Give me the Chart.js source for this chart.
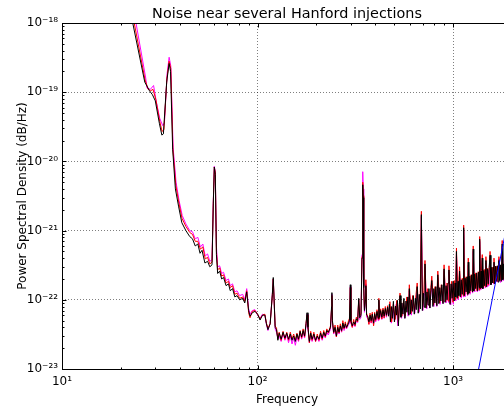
<!DOCTYPE html>
<html><head><meta charset="utf-8">
<script src="https://cdn.jsdelivr.net/npm/chart.js@4/dist/chart.umd.min.js"></script>
<style>html,body{margin:0;padding:0;overflow:hidden;background:#fff}#wrap{width:512px;height:408px}</style>
</head><body><div id="wrap"><canvas id="c" width="512" height="408"></canvas></div>
<script>
const titleText = "Noise near several Hanford injections";
const xLabel = "Frequency";
const yLabel = "Power Spectral Density (dB/Hz)";
const xTicks = [10, 100, 1000];
const yTicks = [1e-23, 1e-22, 1e-21, 1e-20, 1e-19, 1e-18];
const xRange = [10, 2000];
const yRange = [1e-23, 1e-18];

// [frequency Hz, PSD]
const blackPSD = [
[10,9e-19],[10.5,3e-18],[12,2e-17],[16,3e-17],[20,5e-18],[23,1e-18],[26.5,1.4e-19],[28,1.05e-19],[29,9.2e-20],[30,7.5e-20],[31.5,3.5e-20],[32.4,2.4e-20],[33,2.5e-20],[34.3,1.4e-19],[35.3,2.6e-19],[35.9,2.0e-19],[36.8,1.5e-20],[38,4e-21],[39.5,2.2e-21],[41,1.3e-21],[43,1.0e-21],[45,8.2e-22],[46.5,7.6e-22],[48,6.0e-22],[49.5,6.4e-22],[50.8,4.7e-22],[52,5.2e-22],[53.8,3.4e-22],[55.5,3.6e-22],[57,3.0e-22],[58.5,3.2e-22],[59.4,2.5e-21],[60.1,8.3e-21],[60.8,6.5e-21],[61.6,4.5e-22],[62.5,2.4e-22],[64,2.6e-22],[65.5,2.0e-22],[67,2.1e-22],[69,1.6e-22],[71,1.7e-22],[72.5,1.35e-22],[74.5,1.45e-22],[76.5,1.1e-22],[78.5,1.15e-22],[81,1.0e-22],[84,1.05e-22],[86,9e-23],[88,1.3e-22],[90,7e-23],[91.5,5.8e-23],[94,6.5e-23],[97,6.8e-23],[100,6.2e-23],[103,5.1e-23],[106,6.0e-23],[109,6.0e-23],[111,4.5e-23],[113,3.7e-23],[116,4.5e-23],[119,1.2e-22],[120.3,2.1e-22],[121.5,1e-22],[123,4e-23],[125,3.7e-23],[127,2.6e-23],
[129,3.3e-23],[132,2.7e-23],[135,3.4e-23],[138,2.8e-23],[141,3.3e-23],[144,2.7e-23],[147,3.2e-23],[150,2.6e-23],[153,3.0e-23],[156,2.5e-23],[159,3.2e-23],[162,2.7e-23],[165,3.5e-23],[168,2.9e-23],[171,3.6e-23],[174,3.0e-23],[177,4.5e-23],[179,6.5e-23],[181,4.0e-23],[184,2.5e-23],[187,3.3e-23],[190,2.7e-23],[194,3.2e-23],[198,2.6e-23],[202,3.0e-23],[206,2.7e-23],[210,3.3e-23],[214,2.8e-23],[218,3.4e-23],[222,3.0e-23],[226,3.6e-23],[230,3.4e-23],[236,4.0e-23],[239,8e-23],[240,1.27e-22],[241.5,5e-23],[245,3.4e-23],[249,4.0e-23],[253,3.0e-23],[257,4.0e-23],[261,3.4e-23],[265,4.2e-23],[269,3.6e-23],[273,4.6e-23],[277,3.9e-23],[281,4.5e-23],[285,4.0e-23],[290,4.4e-23],[295,5e-23],[298,1.65e-22],[300,5e-23],[305,4.2e-23],[310,4.8e-23],[315,4.4e-23],[320,5.3e-23],[325,5.0e-23],[329,1.05e-22],[333,5.5e-23],[338,6.0e-23],[342,4e-22],[345,4.6e-21],[347,3e-21],[349,1.5e-22],[352,7e-23],[356,1.0e-22],[358,1.6e-22],[361,6e-23],[366,5.8e-23],[371,4.8e-23],[376,6.0e-23],[381,5.0e-23],[386,6.2e-23],[392,4.6e-23],[397,6.3e-23],[402,5.2e-23],[408,6.8e-23],[414,5.4e-23],[417,1.0e-22],[420,5.6e-23],[426,7.0e-23],[432,5.6e-23],[438,7.2e-23],[444,5.8e-23],[450,7.5e-23],[456,6.0e-23],[462,7.8e-23],[467,5.8e-23],
[472,8.6e-23],[478,4.8e-23],[483,8.0e-23],[489,5.4e-23],[495,9.5e-23],[501,4.8e-23],[507,8.1e-23],[513,6.0e-23],[519,9.8e-23],[525,4.2e-23],[531,8.6e-23],[535,1.15e-22],[541,5.6e-23],[547,9.0e-23],[554,6.2e-23],[560,1.05e-22],[567,5.4e-23],[574,9.6e-23],[580,6.6e-23],[587,1.1e-22],[594,6.0e-23],[597,1.45e-22],[604,6.2e-23],[611,1.0e-22],[618,6.8e-23],[626,1.15e-22],[633,6.2e-23],[641,1.05e-22],[648,7.2e-23],[655,1.55e-22],[663,6.4e-23],[671,1.2e-22],[680,7.4e-23],[688,1.7e-21],[696,7.0e-23],[704,1.25e-22],[712,7.8e-23],[718,3.3e-22],[726,7.6e-23],[735,1.3e-22],[744,8.4e-23],[752,1.45e-22],[761,7.6e-23],[770,1.35e-22],[778,1.9e-22],[788,8.0e-23],[797,1.45e-22],[807,9.0e-23],[816,1.55e-22],[826,8.2e-23],[835,2.3e-22],[845,8.8e-23],[855,1.5e-22],[866,9.6e-23],[876,1.65e-22],[887,8.8e-23],[899,2.8e-22],[909,9.2e-23],[920,1.6e-22],[931,1.0e-22],[942,1.75e-22],[952,2.7e-22],[964,8.6e-23],[976,1.7e-22],[988,1.05e-22],[1000,1.85e-22],[1012,9.6e-23],[1024,1.75e-22],[1032,1.1e-22],[1040,5.0e-22],[1048,1.05e-22],[1060,1.85e-22],[1070,1.15e-22],[1079,2.6e-22],[1088,1.1e-22],[1100,1.95e-22],[1112,1.2e-22],[1125,2.0e-22],[1132,1.1e-21],[1140,1.15e-22],[1152,2.05e-22],[1165,1.3e-22],[1178,2.15e-22],[1190,1.2e-22],[1195,3.5e-22],[1203,1.25e-22],[1217,2.2e-22],[1231,1.35e-22],[1245,2.3e-22],[1259,1.3e-22],[1267,5.4e-22],[1275,1.35e-22],[1290,2.35e-22],[1305,1.45e-22],[1320,2.45e-22],[1335,1.35e-22],[1350,2.5e-22],[1360,1.5e-22],[1367,7.5e-22],[1375,1.45e-22],[1390,2.6e-22],[1400,1.5e-22],[1409,4.0e-22],[1418,1.45e-22],[1434,2.65e-22],[1450,1.6e-22],[1464,2.75e-22],[1471,3.7e-22],[1480,1.55e-22],[1496,2.8e-22],[1512,1.7e-22],[1528,2.9e-22],[1545,4.4e-22],[1560,1.65e-22],[1577,2.95e-22],[1594,1.75e-22],[1610,3.0e-22],[1618,3.5e-22],[1628,1.7e-22],[1646,3.05e-22],[1664,1.85e-22],[1682,3.1e-22],[1700,1.8e-22],[1714,3.7e-22],[1726,1.9e-22],[1744,3.2e-22],[1762,1.85e-22],[1782,6.4e-22],[1795,1.95e-22],[1814,3.3e-22],[1833,1.9e-22],[1852,3.35e-22],[1871,2.0e-22],[1890,3.4e-22],[1910,2.05e-22],[1930,3.45e-22],[1950,2.1e-22],[1970,3.5e-22],[1990,2.15e-22],[2000,3.0e-22]
];

const redPSD = [
[10,9.5e-19],[10.5,3e-18],[12,2e-17],[16,3e-17],[20,5.5e-18],[23.4,1e-18],[26.6,1.5e-19],[27.6,1.1e-19],[28.4,1.05e-19],[29.2,1.1e-19],[30.2,7.8e-20],[31.6,3.8e-20],[32.5,2.7e-20],[33.2,2.9e-20],[34.4,1.6e-19],[35.3,2.8e-19],[36.0,2.2e-19],[36.9,1.5e-20],[38.2,4.5e-21],[39.6,2.5e-21],[41.1,1.5e-21],[43,1.15e-21],[45,9.4e-22],[46.5,8.8e-22],[48,7.0e-22],[49.5,7.0e-22],[51,5.4e-22],[52.5,5.8e-22],[54,3.9e-22],[55.5,4.1e-22],[57,3.3e-22],[58.5,3.5e-22],[59.4,2.6e-21],[60.1,8.3e-21],[60.8,6.8e-21],[61.6,5e-22],[62.5,2.7e-22],[64,2.9e-22],[65.5,2.2e-22],[67,2.3e-22],[69,1.75e-22],[71,1.85e-22],[72.5,1.5e-22],[74.5,1.6e-22],[76.5,1.2e-22],[78.5,1.25e-22],[81,1.05e-22],[84,1.1e-22],[86,9.5e-23],[88,1.35e-22],[90,6.5e-23],[91.5,5.5e-23],[94,6.8e-23],[97,7.0e-23],[100,6.2e-23],[103,5.3e-23],[106,6.0e-23],[109,6.2e-23],[111,4.6e-23],[113,3.9e-23],[116,4.5e-23],[119,1.15e-22],[120.3,2.0e-22],[121.5,1e-22],[123,4.2e-23],[125,3.9e-23],[127,2.7e-23],
[129,3.4e-23],[132,2.6e-23],[135,3.5e-23],[138,2.7e-23],[141,3.4e-23],[144,2.6e-23],[147,3.4e-23],[150,2.7e-23],[153,3.2e-23],[156,2.6e-23],[159,3.3e-23],[162,2.6e-23],[165,3.6e-23],[168,2.8e-23],[171,3.8e-23],[174,2.9e-23],[177,4.6e-23],[179,6.0e-23],[181,4.2e-23],[184,2.4e-23],[187,3.5e-23],[190,2.6e-23],[194,3.4e-23],[198,2.5e-23],[202,3.2e-23],[206,2.6e-23],[210,3.5e-23],[214,2.7e-23],[218,3.6e-23],[222,2.9e-23],[226,3.8e-23],[230,3.3e-23],[236,4.2e-23],[239,7.5e-23],[240,1.15e-22],[241.5,4.8e-23],[245,3.3e-23],[249,4.3e-23],[253,2.9e-23],[257,4.3e-23],[261,3.3e-23],[265,4.5e-23],[269,3.5e-23],[273,5.0e-23],[277,3.8e-23],[281,4.8e-23],[285,3.9e-23],[290,4.7e-23],[295,5.4e-23],[298,1.5e-22],[300,4.8e-23],[305,4.0e-23],[310,5.2e-23],[315,4.2e-23],[320,5.6e-23],[325,4.8e-23],[329,1.0e-22],[333,5.8e-23],[338,6.4e-23],[342,4.2e-22],[345,5.0e-21],[347,3.2e-21],[349,1.6e-22],[352,7.2e-23],[356,1.1e-22],[358,1.95e-22],[361,6.4e-23],[366,5.6e-23],[371,4.4e-23],[376,6.4e-23],[381,4.7e-23],[386,6.6e-23],[392,4.2e-23],[397,6.6e-23],[402,5.0e-23],[408,7.2e-23],[414,5.2e-23],[417,1.05e-22],[420,5.3e-23],[426,7.4e-23],[432,5.3e-23],[438,7.6e-23],[444,5.5e-23],[450,8.0e-23],[456,5.8e-23],[462,8.2e-23],[468,6.0e-23],
[475,9.4e-23],[485,4.8e-23],[495,8.8e-23],[505,5.2e-23],[515,9.8e-23],[525,4.6e-23],[535,1.25e-22],[547,5.8e-23],[558,9.8e-23],[568,5.8e-23],[580,1.1e-22],[591,6.2e-23],[597,1.65e-22],[609,6.4e-23],[621,1.15e-22],[634,6.6e-23],[646,1.2e-22],[655,1.75e-22],[666,6.8e-23],[679,1.25e-22],[688,1.9e-21],[697,7.2e-23],[709,1.35e-22],[718,3.7e-22],[730,7.8e-23],[742,1.45e-22],[757,8.0e-23],[769,1.5e-22],[778,2.2e-22],[794,8.4e-23],[808,1.55e-22],[822,8.4e-23],[835,2.6e-22],[853,9.0e-23],[870,1.65e-22],[887,9.2e-23],[899,3.2e-22],[916,9.4e-23],[931,1.75e-22],[943,9.6e-23],[952,3.1e-22],[968,9.0e-23],[983,1.85e-22],[998,9.2e-23],[1013,1.9e-22],[1028,1.0e-22],[1040,5.6e-22],[1058,1.05e-22],[1070,1.95e-22],[1079,3.0e-22],[1095,1.1e-22],[1114,2.05e-22],[1127,1.15e-22],[1132,1.2e-21],[1145,1.15e-22],[1164,2.15e-22],[1182,1.2e-22],[1195,4.0e-22],[1215,1.25e-22],[1235,2.3e-22],[1254,1.3e-22],[1267,6.0e-22],[1285,1.35e-22],[1305,2.45e-22],[1325,1.35e-22],[1344,2.55e-22],[1358,1.4e-22],[1367,8.2e-22],[1384,1.45e-22],[1398,2.65e-22],[1409,4.5e-22],[1428,1.5e-22],[1443,2.75e-22],[1458,1.55e-22],[1471,4.2e-22],[1488,1.6e-22],[1503,2.85e-22],[1518,1.65e-22],[1533,2.95e-22],[1545,5.0e-22],[1565,1.7e-22],[1585,2.95e-22],[1605,1.75e-22],[1618,4.0e-22],[1640,1.8e-22],[1660,3.05e-22],[1680,1.85e-22],[1700,3.15e-22],[1714,4.2e-22],[1735,1.9e-22],[1755,3.15e-22],[1770,1.95e-22],[1782,7.2e-22],[1805,2.0e-22],[1825,3.25e-22],[1845,2.05e-22],[1865,3.25e-22],[1890,2.1e-22],[1915,3.3e-22],[1940,2.15e-22],[1965,3.3e-22],[1990,2.2e-22]
];

const magentaPSD = [
[10,9e-19],[10.5,3e-18],[12,2e-17],[16,3e-17],[20,6e-18],[23.9,1e-18],[26.8,1.6e-19],[27.2,1.15e-19],[28.3,1.1e-19],[29.4,1.25e-19],[30.3,7.5e-20],[31.6,4.2e-20],[32.7,3.3e-20],[33.4,3.6e-20],[34.5,1.9e-19],[35.3,3.2e-19],[36.0,2.4e-19],[37.0,1.6e-20],[38.3,5e-21],[39.7,2.7e-21],[41.2,1.65e-21],[43,1.25e-21],[45,1.0e-21],[46.5,9.6e-22],[48,7.6e-22],[49.5,8.0e-22],[51,5.8e-22],[52.5,6.4e-22],[54,4.3e-22],[55.5,4.6e-22],[57,3.6e-22],[58.5,3.8e-22],[59.4,2.7e-21],[60.1,8.5e-21],[60.8,7.0e-21],[61.6,6e-22],[62.5,3.0e-22],[64,3.1e-22],[65.5,2.4e-22],[67,2.5e-22],[69,1.9e-22],[71,2.0e-22],[72.5,1.6e-22],[74.5,1.7e-22],[76.5,1.3e-22],[78.5,1.35e-22],[81,1.15e-22],[84,1.2e-22],[86,1.0e-22],[88,1.45e-22],[90,7.5e-23],[91.5,6.2e-23],[94,7e-23],[97,7.2e-23],[100,6.0e-23],[103,5.4e-23],[106,6.2e-23],[109,6.0e-23],[111,4.4e-23],[113,3.6e-23],[116,4.6e-23],[119,1.2e-22],[120.3,2.0e-22],[121.5,1e-22],[123,3.8e-23],[125,3.4e-23],[127,2.8e-23],
[129,3.0e-23],[132,2.5e-23],[135,3.3e-23],[138,2.6e-23],[141,3.1e-23],[144,2.4e-23],[147,3.0e-23],[150,2.3e-23],[153,2.8e-23],[156,2.2e-23],[159,2.9e-23],[162,2.5e-23],[165,3.3e-23],[168,2.7e-23],[171,3.4e-23],[174,2.8e-23],[177,4.2e-23],[179,6.2e-23],[181,3.8e-23],[184,2.4e-23],[187,3.1e-23],[190,2.5e-23],[194,3.0e-23],[198,2.5e-23],[202,2.9e-23],[206,2.5e-23],[210,3.1e-23],[214,2.6e-23],[218,3.2e-23],[222,2.8e-23],[226,3.4e-23],[230,3.1e-23],[236,3.8e-23],[239,7.5e-23],[240,1.2e-22],[241.5,4.6e-23],[245,3.2e-23],[249,3.7e-23],[253,2.9e-23],[257,3.8e-23],[261,3.2e-23],[265,4.0e-23],[269,3.4e-23],[273,4.3e-23],[277,3.6e-23],[281,4.2e-23],[285,3.8e-23],[290,4.2e-23],[295,4.6e-23],[298,1.55e-22],[300,4.6e-23],[305,4.0e-23],[310,4.5e-23],[315,4.1e-23],[320,5.0e-23],[325,4.7e-23],[329,9.8e-23],[333,5.2e-23],[338,5.6e-23],[342,4.5e-22],[345,7.1e-21],[347,4e-21],[349,1.6e-22],[352,6.6e-23],[356,9.5e-23],[358,1.7e-22],[361,5.6e-23],[366,5.4e-23],[371,4.5e-23],[376,5.6e-23],[381,4.6e-23],[386,5.8e-23],[392,4.3e-23],[397,5.9e-23],[402,4.8e-23],[408,6.4e-23],[414,5.0e-23],[417,9.5e-23],[420,5.2e-23],[426,6.6e-23],[432,5.2e-23],[438,6.8e-23],[444,5.4e-23],[450,7.0e-23],[456,5.6e-23],[462,7.4e-23],[468,5.8e-23],
[473,8.2e-23],[483,4.6e-23],[493,7.8e-23],[502,4.8e-23],[512,8.6e-23],[522,4.2e-23],[535,1.05e-22],[545,5.4e-23],[555,8.8e-23],[565,5.4e-23],[577,9.6e-23],[589,5.8e-23],[597,1.35e-22],[612,6.0e-23],[624,1.0e-22],[637,6.4e-23],[649,1.05e-22],[655,1.45e-22],[669,6.6e-23],[681,1.1e-22],[688,1.6e-21],[700,7.0e-23],[712,1.2e-22],[718,3.0e-22],[733,7.4e-23],[746,1.3e-22],[760,7.6e-23],[772,1.35e-22],[778,1.75e-22],[797,8.0e-23],[811,1.4e-22],[825,8.0e-23],[835,2.1e-22],[857,8.6e-23],[874,1.5e-22],[891,8.8e-23],[899,2.6e-22],[920,9.0e-23],[934,1.6e-22],[946,9.2e-23],[952,2.5e-22],[972,8.4e-23],[987,1.7e-22],[1002,8.6e-23],[1017,1.75e-22],[1032,9.6e-23],[1040,4.6e-22],[1061,1.0e-22],[1072,1.8e-22],[1079,2.4e-22],[1100,1.05e-22],[1117,1.9e-22],[1128,1.1e-22],[1132,1.0e-21],[1150,1.1e-22],[1169,2.0e-22],[1186,1.15e-22],[1195,3.2e-22],[1220,1.2e-22],[1240,2.1e-22],[1258,1.25e-22],[1267,5.0e-22],[1290,1.3e-22],[1310,2.3e-22],[1330,1.3e-22],[1347,2.4e-22],[1360,1.35e-22],[1367,7.0e-22],[1387,1.4e-22],[1402,2.5e-22],[1409,3.7e-22],[1432,1.45e-22],[1447,2.6e-22],[1462,1.5e-22],[1471,3.4e-22],[1492,1.55e-22],[1507,2.7e-22],[1522,1.6e-22],[1537,2.8e-22],[1545,4.1e-22],[1570,1.65e-22],[1590,2.8e-22],[1609,1.7e-22],[1618,3.3e-22],[1645,1.75e-22],[1665,2.9e-22],[1685,1.8e-22],[1704,3.0e-22],[1714,3.9e-22],[1740,1.8e-22],[1757,3.0e-22],[1773,1.85e-22],[1782,6.0e-22],[1810,1.9e-22],[1830,3.1e-22],[1850,1.95e-22],[1870,3.1e-22],[1895,2.0e-22],[1920,3.1e-22],[1945,2.05e-22],[1970,3.2e-22],[1995,2.1e-22]
];

const bluePSD = [[1300,5.8e-24],[1600,1.17e-22],[1860,1.0e-21],[2000,2.8e-21]];

const supMap = {'-':'\u207B','0':'\u2070','1':'\u00B9','2':'\u00B2','3':'\u00B3','4':'\u2074','5':'\u2075','6':'\u2076','7':'\u2077','8':'\u2078','9':'\u2079'};
function powLabel(v){
  const e = String(Math.round(Math.log10(v)));
  return '10' + e.split('').map(c => supMap[c]).join('');
}
const toXY = arr => arr.map(p => ({x: p[0], y: p[1]}));

const FONT = '"DejaVu Sans", "Liberation Sans", sans-serif';

const frame = {
  id: 'frame',
  afterDraw(chart){
    const {ctx, chartArea: a, scales: {x, y}} = chart;
    ctx.save();
    ctx.strokeStyle = '#000';
    ctx.lineWidth = 1;
    const L = Math.round(a.left) + 0.5, T = Math.round(a.top) + 0.5;
    const R = Math.round(a.right) + 0.5, B = Math.round(a.bottom) + 0.5;
    ctx.strokeRect(L, T, R - L, B - T);
    ctx.beginPath();
    for (let d = 10; d <= 1000; d *= 10){
      for (let k = 1; k <= 9; k++){
        const v = k * d;
        if (v < xRange[0] || v > xRange[1]) continue;
        const px = Math.round(x.getPixelForValue(v)) + 0.5;
        const len = k === 1 ? 4 : 2;
        ctx.moveTo(px, B); ctx.lineTo(px, B - len);
        ctx.moveTo(px, T); ctx.lineTo(px, T + len);
      }
    }
    for (let e = -23; e <= -18; e++){
      for (let k = 1; k <= 9; k++){
        const v = k * Math.pow(10, e);
        if (v < yRange[0] * 0.999 || v > yRange[1] * 1.001) continue;
        const py = Math.round(y.getPixelForValue(v)) + 0.5;
        const len = k === 1 ? 4 : 2;
        ctx.moveTo(L, py); ctx.lineTo(L + len, py);
        ctx.moveTo(R, py); ctx.lineTo(R - len, py);
      }
    }
    ctx.stroke();
    ctx.fillStyle = '#000';
    ctx.font = '14.4px ' + FONT;
    ctx.textAlign = 'center';
    ctx.textBaseline = 'alphabetic';
    ctx.fillText(titleText, (a.left + a.right) / 2, 18);
    ctx.restore();
  }
};

const ds = (label, arr, color, order) => ({
  label, data: toXY(arr), borderColor: color, backgroundColor: color,
  borderWidth: 1, pointRadius: 0, tension: 0, fill: false, order
});

new Chart(document.getElementById('c'), {
  type: 'line',
  data: {
    datasets: [
      ds('blue', bluePSD, '#0000ff', 0),
      ds('black', blackPSD, '#000000', 1),
      ds('red', redPSD, '#ff0000', 2),
      ds('magenta', magentaPSD, '#ff00ff', 3)
    ]
  },
  options: {
    responsive: false,
    animation: false,
    layout: {padding: {top: 23, right: 0, left: 0, bottom: 0}},
    plugins: {legend: {display: false}, tooltip: {enabled: false}, title: {display: false}},
    scales: {
      x: {
        type: 'logarithmic', min: xRange[0], max: xRange[1],
        afterBuildTicks: s => { s.ticks = xTicks.map(v => ({value: v})); },
        afterFit: s => { s.height = 39; },
        grid: {color: 'rgba(0,0,0,0.5)', lineWidth: 1, drawTicks: false},
        border: {display: false, dash: [1, 2]},
        ticks: {callback: v => powLabel(v), color: '#000', font: {family: FONT, size: 12}, padding: 6, maxRotation: 0, autoSkip: false},
        title: {display: true, text: xLabel, color: '#000', font: {family: FONT, size: 12}, padding: {top: 0, bottom: 1}}
      },
      y: {
        type: 'logarithmic', min: yRange[0], max: yRange[1],
        afterBuildTicks: s => { s.ticks = yTicks.map(v => ({value: v})); },
        afterFit: s => { s.width = 62; },
        grid: {color: 'rgba(0,0,0,0.5)', lineWidth: 1, drawTicks: false},
        border: {display: false, dash: [1, 2]},
        ticks: {callback: v => powLabel(v), color: '#000', font: {family: FONT, size: 12}, padding: 4, autoSkip: false},
        title: {display: true, text: yLabel, color: '#000', font: {family: FONT, size: 12}, padding: {top: 16, bottom: 0}}
      }
    }
  },
  plugins: [frame]
});
</script></body></html>
